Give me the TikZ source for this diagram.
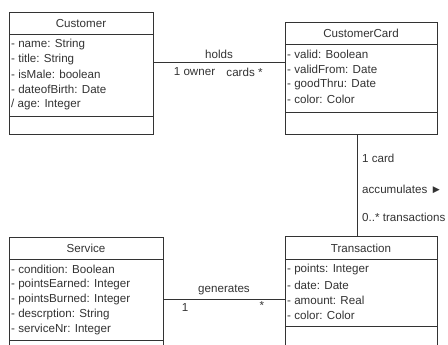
\documentclass[tikz,border=0pt]{standalone}
\usepackage{fontspec}
\setmainfont{Liberation Sans}
\begin{document}
\begin{tikzpicture}[x=1pt,y=-1pt,
  ln/.style={draw=black!80, line width=0.9pt},
  box/.style={ln, rectangle, inner sep=0pt, anchor=north west, fill=white},
  attr/.style={anchor=west, inner sep=0pt, text=black!80, font=\fontsize{11.6}{13}\selectfont},
  title/.style={anchor=center, inner sep=0pt, text=black!80, font=\fontsize{11.6}{13}\selectfont},
  lbl/.style={inner sep=0pt, text=black!80, font=\fontsize{11.6}{13}\selectfont}]
\useasboundingbox (0,0) rectangle (448,345);
\clip (0,0) rectangle (448,345);
% Customer
\node[box, minimum width=144pt, minimum height=122pt] (cust) at (9,12) {};
\draw[ln] (9,34) -- (153,34);
\draw[ln] (9,116) -- (153,116);
\node[title] (custT) at (81,23.5) {Customer};
\node[attr] (c1) at (11,44.5) {- name: String};
\node[attr] (c2) at (11,59.5) {- title: String};
\node[attr] (c3) at (11,74.5) {- isMale: boolean};
\node[attr] (c4) at (11,89.5) {- dateofBirth: Date};
\node[attr] (c5) at (11,104.5) {/ age: Integer};
% CustomerCard
\node[box, minimum width=152pt, minimum height=112pt] (card) at (285,22) {};
\draw[ln] (285,44) -- (437,44);
\draw[ln] (285,112.5) -- (437,112.5);
\node[title] (cardT) at (361,33) {CustomerCard};
\node[attr] (k1) at (287,54.5) {- valid: Boolean};
\node[attr] (k2) at (287,69.5) {- validFrom: Date};
\node[attr] (k3) at (287,84.5) {- goodThru: Date};
\node[attr] (k4) at (287,99.5) {- color: Color};
% Service
\node[box, minimum width=154pt, minimum height=130pt] (serv) at (9,237) {};
\draw[ln] (9,259) -- (163,259);
\draw[ln] (9,340) -- (163,340);
\node[title] (servT) at (86,248) {Service};
\node[attr] (s1) at (11,269.5) {- condition: Boolean};
\node[attr] (s2) at (11,284.5) {- pointsEarned: Integer};
\node[attr] (s3) at (11,299.5) {- pointsBurned: Integer};
\node[attr] (s4) at (11,314.5) {- descrption: String};
\node[attr] (s5) at (11,329.5) {- serviceNr: Integer};
% Transaction
\node[box, minimum width=152pt, minimum height=130pt] (tran) at (285,236) {};
\draw[ln] (285,259) -- (437,259);
\draw[ln] (285,326) -- (437,326);
\node[title] (tranT) at (361,248) {Transaction};
\node[attr] (t1) at (287,270) {- points: Integer};
\node[attr] (t2) at (287,285) {- date: Date};
\node[attr] (t3) at (287,300) {- amount: Real};
\node[attr] (t4) at (287,315) {- color: Color};
% holds
\coordinate (h1) at (cust.east |- 0,62);
\coordinate (h2) at (card.west |- 0,62);
\draw[ln] (h1) -- (h2);
\node[lbl] (holds) at (219,54) {holds};
\node[lbl] (own) at (194.5,72) {1 owner};
\node[lbl] (cards) at (244.5,72) {cards *};
% accumulates
\coordinate (a1) at (card.south -| 357,0);
\coordinate (a2) at (tran.north -| 357,0);
\draw[ln] (a1) -- (a2);
\node[lbl, anchor=west] (one) at (362,158) {1 card};
\node[lbl, anchor=west] (acc) at (362,189) {accumulates ►};
\node[lbl, anchor=west] (many) at (362,217) {0..* transactions};
% generates
\coordinate (g1) at (serv.east |- 0,299);
\coordinate (g2) at (tran.west |- 0,299);
\draw[ln] (g1) -- (g2);
\node[lbl] (gen) at (224,290) {generates};
\node[lbl] (g1l) at (185,307.5) {1};
\node[lbl] (g2l) at (262,306) {*};
\end{tikzpicture}
\end{document}
